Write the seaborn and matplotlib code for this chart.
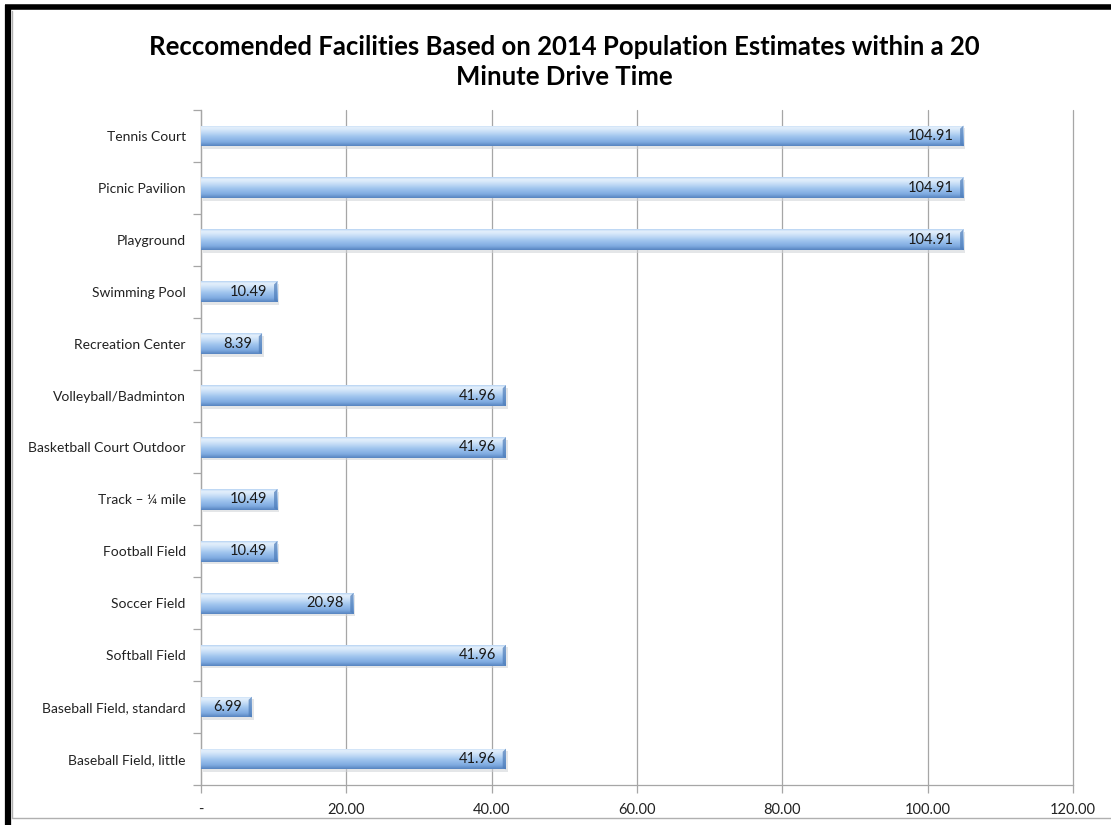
import numpy as np
import pandas as pd
import matplotlib
matplotlib.use("Agg")
import matplotlib.pyplot as plt
from matplotlib.colors import LinearSegmentedColormap
from matplotlib.lines import Line2D
from matplotlib.patches import Polygon
import seaborn as sns

facilities = [
    "Tennis Court",
    "Picnic Pavilion",
    "Playground",
    "Swimming Pool",
    "Recreation Center",
    "Volleyball/Badminton",
    "Basketball Court Outdoor",
    "Track \u2013 \u00bc mile",
    "Football Field",
    "Soccer Field",
    "Softball Field",
    "Baseball Field, standard",
    "Baseball Field, little",
]
recommended = [104.91, 104.91, 104.91, 10.49, 8.39, 41.96, 41.96,
               10.49, 10.49, 20.98, 41.96, 6.99, 41.96]
x_ticks = [0, 20, 40, 60, 80, 100, 120]
x_tick_labels = ["-", "20.00", "40.00", "60.00", "80.00", "100.00", "120.00"]
title = ("Reccomended Facilities Based on 2014 Population Estimates within a 20\n"
         "Minute Drive Time")

df = pd.DataFrame({"facility": facilities, "value": recommended})

sns.set_theme(style="white")
plt.rcParams["font.family"] = ["Lato", "DejaVu Sans"]

fig = plt.figure(figsize=(11.11, 8.25), dpi=100)
ax = fig.add_axes([0.181, 0.0485, 0.7848, 0.8182])

sns.barplot(data=df, y="facility", x="value", orient="h", ax=ax,
            width=0.40, color="#8fb8e8", edgecolor="none", zorder=3)

# cylinder-like shading for each bar
shade = LinearSegmentedColormap.from_list(
    "bar_shade",
    [(0.0, "#b4d2f2"), (0.1, "#e6f1fc"), (0.28, "#cde2f8"),
     (0.55, "#9fc4ee"), (0.82, "#7eaae0"), (1.0, "#5784c0")])
grad = np.linspace(0, 1, 64).reshape(-1, 1)
bevel = 0.45  # data units of the slanted end cap
for patch in list(ax.patches):
    x0, y0 = patch.get_x(), patch.get_y()
    w, h = patch.get_width(), patch.get_height()
    # soft drop shadow
    ax.add_patch(plt.Rectangle((x0 + 0.25, y0 + 0.05), w, h, color="#cfd2d6",
                               alpha=0.55, zorder=2, lw=0))
    img = ax.imshow(grad, cmap=shade, aspect="auto", zorder=4,
                    extent=(x0, x0 + w, y0 + h, y0), interpolation="bicubic")
    img.set_clip_path(patch)
    # darker bevelled end of the bar
    xe = x0 + w
    ax.add_patch(Polygon([(xe - bevel, y0 + 0.06), (xe, y0), (xe, y0 + h),
                          (xe - bevel, y0 + h - 0.03)],
                         closed=True, color="#4d7cb9", alpha=0.7, lw=0, zorder=5))

# value labels at the inner end of every bar
for i, v in enumerate(recommended):
    ax.annotate(f"{v:.2f}", xy=(v, i), xytext=(-7, 0), textcoords="offset points",
                ha="right", va="center", fontsize=10.5, color="#1a1a1a", zorder=6)

ax.set_xlim(0, 120)
ax.set_ylim(len(facilities) - 0.5, -0.5)
ax.set_xticks(x_ticks)
ax.set_xticklabels(x_tick_labels, fontsize=10.5, color="#222222")
ax.set_yticks(range(len(facilities)))
ax.set_yticklabels(facilities, fontsize=10, color="#222222")
ax.set_yticks(np.arange(-0.5, len(facilities), 1), minor=True)
ax.set_xlabel("")
ax.set_ylabel("")

ax.xaxis.grid(True, color="#a6a6a6", lw=0.9, zorder=0)
for g in ax.get_xgridlines():
    g.set_clip_on(False)
ax.yaxis.grid(False)
ax.tick_params(axis="y", which="major", length=0, pad=11)
ax.tick_params(axis="y", which="minor", length=6, color="#a6a6a6", width=0.9, left=True)
ax.tick_params(axis="x", which="major", length=6, color="#a6a6a6", width=0.9,
               bottom=True, pad=7, direction="out")
for side in ("top", "right"):
    ax.spines[side].set_visible(False)
for side in ("left", "bottom"):
    ax.spines[side].set_color("#a6a6a6")
    ax.spines[side].set_linewidth(0.9)

fig.text(0.508, 0.958, title, ha="center", va="top", fontsize=18.5,
         fontweight="bold", color="#000000", linespacing=1.3)

# chart frame
fig.add_artist(Line2D([0.0045, 1.0], [0.9915, 0.9915], color="black", lw=4,
                      transform=fig.transFigure, solid_capstyle="butt"))
fig.add_artist(Line2D([0.0072, 0.0072], [0.0, 0.994], color="black", lw=4.5,
                      transform=fig.transFigure, solid_capstyle="butt"))
fig.add_artist(Line2D([0.0105, 1.0], [0.0085, 0.0085], color="#b0b0b0", lw=1,
                      transform=fig.transFigure))
fig.add_artist(Line2D([0.0105, 0.0105], [0.0085, 0.987], color="#b0b0b0", lw=1,
                      transform=fig.transFigure))

fig.savefig("out.png", dpi=100)
